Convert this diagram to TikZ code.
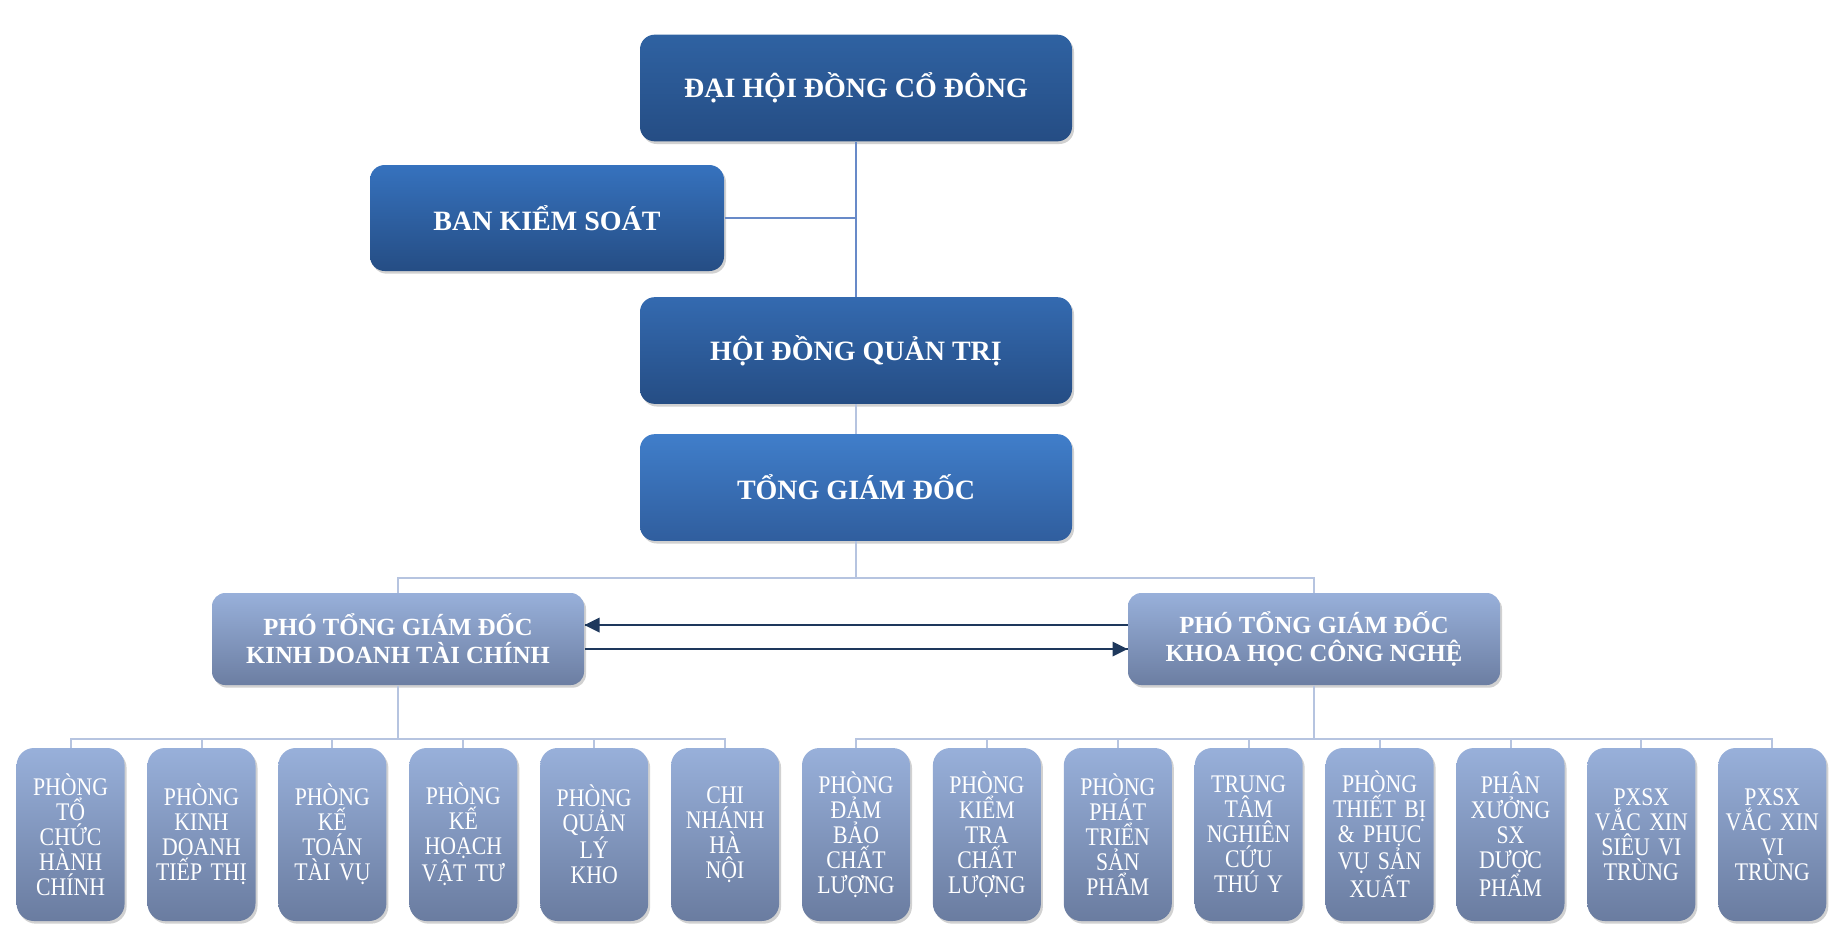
\documentclass[tikz,border=0pt]{standalone}
\usepackage{fontspec}
\setmainfont{Liberation Serif}
\newfontfamily\narrowserif[FakeStretch=0.86]{Liberation Serif}
\usetikzlibrary{shadows}

\definecolor{lnBlue}{RGB}{104,138,200}
\definecolor{lnLight}{RGB}{182,196,224}
\definecolor{arrNavy}{RGB}{30,56,92}

\tikzset{every picture/.style={line width=0.75pt}}
\tikzset{
  boxshadow/.style={drop shadow={shadow xshift=1.5pt,shadow yshift=-2pt,opacity=0.3,fill=black!60}},
  topbox/.style={rounded corners=11pt,top color={rgb,255:red,52;green,106;blue,176},bottom color={rgb,255:red,37;green,77;blue,132},
    text=white,font=\fontsize{21}{24}\selectfont\bfseries,minimum width=324pt,minimum height=80pt,boxshadow},
  vicebox/.style={rounded corners=10pt,top color={rgb,255:red,152;green,176;blue,218},bottom color={rgb,255:red,108;green,126;blue,162},
    text=white,font=\fontsize{18.5}{21}\selectfont\bfseries,align=center,minimum width=279pt,minimum height=69pt,boxshadow},
  deptbox/.style={rounded corners=13pt,top color={rgb,255:red,152;green,176;blue,218},bottom color={rgb,255:red,106;green,124;blue,160},
    text=white,font=\narrowserif\fontsize{19}{18.75}\selectfont,align=center,text width=79pt,inner sep=0pt,minimum width=81pt,minimum height=129.75pt,boxshadow},
  bus/.style={draw=lnLight,line width=1.5pt},
  mainline/.style={draw=lnBlue,line width=1.5pt},
  link/.style={draw=arrNavy,line width=1.5pt}
}

\begin{document}
\begin{tikzpicture}[x=0.75pt,y=0.75pt,yscale=-1,xscale=1]
\useasboundingbox (0,0) rectangle (1831,926);

% Top level boxes
\draw (856,88) node [topbox,top color={rgb,255:red,47;green,98;blue,162}] (dh) {ĐẠI HỘI ĐỒNG CỔ ĐÔNG};
\draw (547,218) node [topbox,minimum width=265.5pt,minimum height=79.5pt,top color={rgb,255:red,54;green,114;blue,190}] (bks) {BAN KIỂM SOÁT};
\draw (856,350.5) node [topbox] (hd) {HỘI ĐỒNG QUẢN TRỊ};
\draw (856,487.5) node [topbox,top color={rgb,255:red,64;green,126;blue,202},bottom color={rgb,255:red,48;green,94;blue,158}] (tg) {TỔNG GIÁM ĐỐC};

% Vice directors
\draw (398,639) node [vicebox] (pk1) {PHÓ TỔNG GIÁM ĐỐC\\KINH DOANH TÀI CHÍNH};
\draw (1314,639) node [vicebox] (pk2) {PHÓ TỔNG GIÁM ĐỐC\\KHOA HỌC CÔNG NGHỆ};

% Departments
\foreach \i/\txt in {1/{PHÒNG\\TỔ\\CHỨC\\HÀNH\\CHÍNH},2/{PHÒNG\\KINH\\DOANH\\TIẾP THỊ},3/{PHÒNG\\KẾ\\TOÁN\\TÀI VỤ},
  4/{PHÒNG\\KẾ\\HOẠCH\\VẬT TƯ},5/{PHÒNG\\QUẢN\\LÝ\\KHO},6/{CHI\\NHÁNH\\HÀ\\NỘI},
  7/{PHÒNG\\ĐẢM\\BẢO\\CHẤT\\LƯỢNG},8/{PHÒNG\\KIỂM\\TRA\\CHẤT\\LƯỢNG},9/{PHÒNG\\PHÁT\\TRIỂN\\SẢN\\PHẨM},
  10/{TRUNG\\TÂM\\NGHIÊN\\CỨU\\THÚ Y},11/{PHÒNG\\THIẾT BỊ\\\& PHỤC\\VỤ SẢN\\XUẤT},12/{PHÂN\\XƯỞNG\\SX\\DƯỢC\\PHẨM},
  13/{PXSX\\VẮC XIN\\SIÊU VI\\TRÙNG},14/{PXSX\\VẮC XIN\\VI\\TRÙNG}}
  \draw ({70.6+130.9*(\i-1)},834.5) node [deptbox] (p\i) {\txt};

% Connectors
\draw [mainline] (dh.south) -- (hd.north);
\draw [mainline] (bks.east) -- (bks.east -| dh.south);
\draw [bus] (hd.south) -- (tg.north);
\draw [bus] (tg.south) -- ++(0,37) -| (pk1.north);
\draw [bus] (tg.south) -- ++(0,37) -| (pk2.north);
\foreach \i in {1,...,6} \draw [bus] (pk1.south) -- ++(0,53) -| (p\i.north);
\foreach \i in {7,...,14} \draw [bus] (pk2.south) -- ++(0,53) -| (p\i.north);

% Arrows between vice directors
\coordinate (rowU) at (0,625);
\coordinate (rowD) at (0,649);
\draw [link] (pk2.west |- rowU) -- (pk1.east |- rowU);
\draw [shift={(pk1.east |- rowU)}, rotate = 0] [fill=arrNavy] [draw opacity=0] (15,-7.5) -- (0,0) -- (15,7.5) -- cycle ;
\draw [link] (pk1.east |- rowD) -- (pk2.west |- rowD);
\draw [shift={(pk2.west |- rowD)}, rotate = 180] [fill=arrNavy] [draw opacity=0] (15,-7.5) -- (0,0) -- (15,7.5) -- cycle ;

\end{tikzpicture}
\end{document}
